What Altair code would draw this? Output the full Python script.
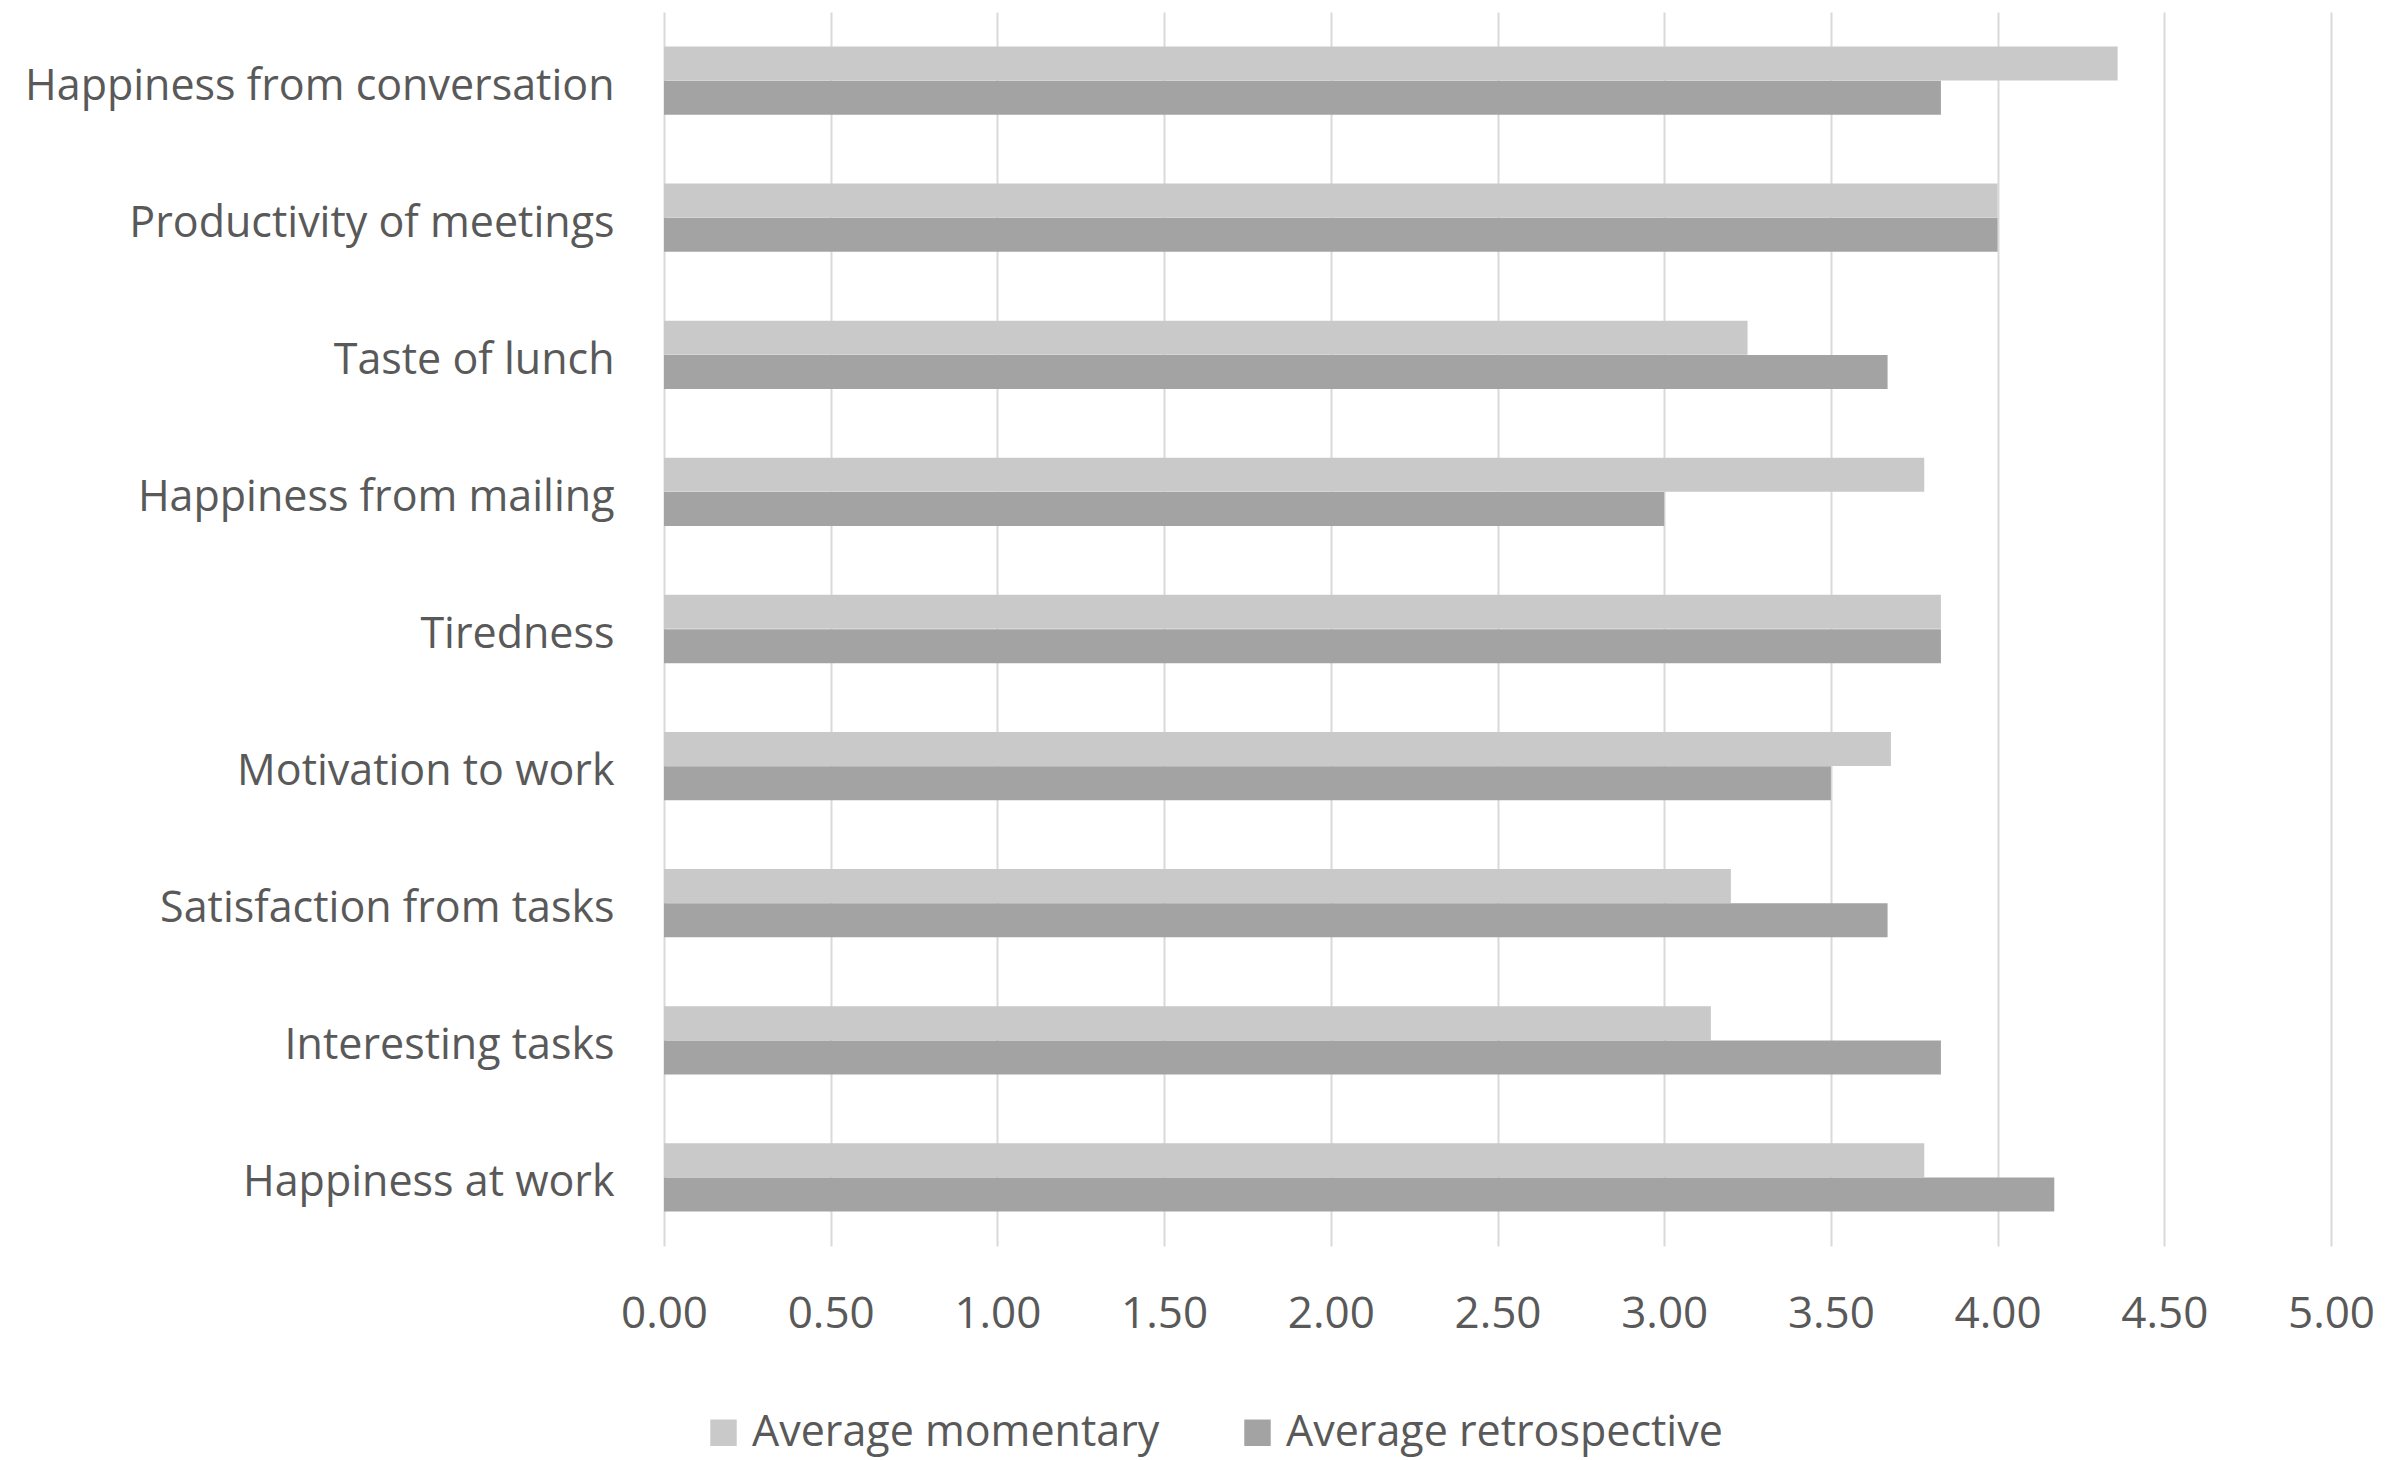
import altair as alt
import pandas as pd

categories = [
    "Happiness from conversation",
    "Productivity of meetings",
    "Taste of lunch",
    "Happiness from mailing",
    "Tiredness",
    "Motivation to work",
    "Satisfaction from tasks",
    "Interesting tasks",
    "Happiness at work",
]
series = ["Average momentary", "Average retrospective"]
momentary = [4.36, 4.00, 3.25, 3.78, 3.83, 3.68, 3.20, 3.14, 3.78]
retrospective = [3.83, 4.00, 3.67, 3.00, 3.83, 3.50, 3.67, 3.83, 4.17]
x_ticks = [0, 0.5, 1, 1.5, 2, 2.5, 3, 3.5, 4, 4.5, 5]
colors = ["#c9c9c9", "#a3a3a3"]

rows = []
for c, m, r in zip(categories, momentary, retrospective):
    rows.append({"category": c, "series": series[0], "value": m})
    rows.append({"category": c, "series": series[1], "value": r})
df = pd.DataFrame(rows)

FONT = "Open Sans"
TEXT = "#595959"
FS = 43

chart = alt.Chart(df).mark_bar(size=34).encode(
    y=alt.Y(
        "category:N",
        sort=categories,
        title=None,
        scale=alt.Scale(paddingInner=0.5, paddingOuter=0.25),
        axis=alt.Axis(
            ticks=False, domain=False, labelPadding=50, labelFontSize=FS,
            labelFont=FONT, labelColor=TEXT, labelLimit=1000, labelOffset=6,
        ),
    ),
    yOffset=alt.YOffset("series:N", sort=series, scale=alt.Scale(paddingInner=0, paddingOuter=0)),
    x=alt.X(
        "value:Q",
        title=None,
        scale=alt.Scale(domain=[0, 5], nice=False),
        axis=alt.Axis(
            values=x_ticks, format=".2f", ticks=False, domain=False,
            labelPadding=46, labelFontSize=44, labelFont=FONT, labelColor=TEXT,
            gridColor="#d9d9d9", gridWidth=2, labelFlush=False,
        ),
    ),
    color=alt.Color(
        "series:N",
        sort=series,
        scale=alt.Scale(domain=series, range=colors),
        legend=alt.Legend(
            title=None, orient="none", direction="horizontal",
            legendX=38, legendY=1399,
            symbolType="square", symbolSize=700, symbolStrokeWidth=0,
            labelFontSize=43, labelFont=FONT, labelColor=TEXT,
            columnPadding=76, labelOffset=7, labelLimit=1000,
        ),
    ),
).properties(
    width=1667,
    height=1234,
    padding={"left": 664, "top": 12, "right": 66, "bottom": 214},
    autosize=alt.AutoSizeParams(type="none"),
).configure(
    background="white",
    view=alt.ViewConfig(stroke="transparent"),
)

chart.save("out.html", embed_options={"renderer": "svg", "actions": False})
